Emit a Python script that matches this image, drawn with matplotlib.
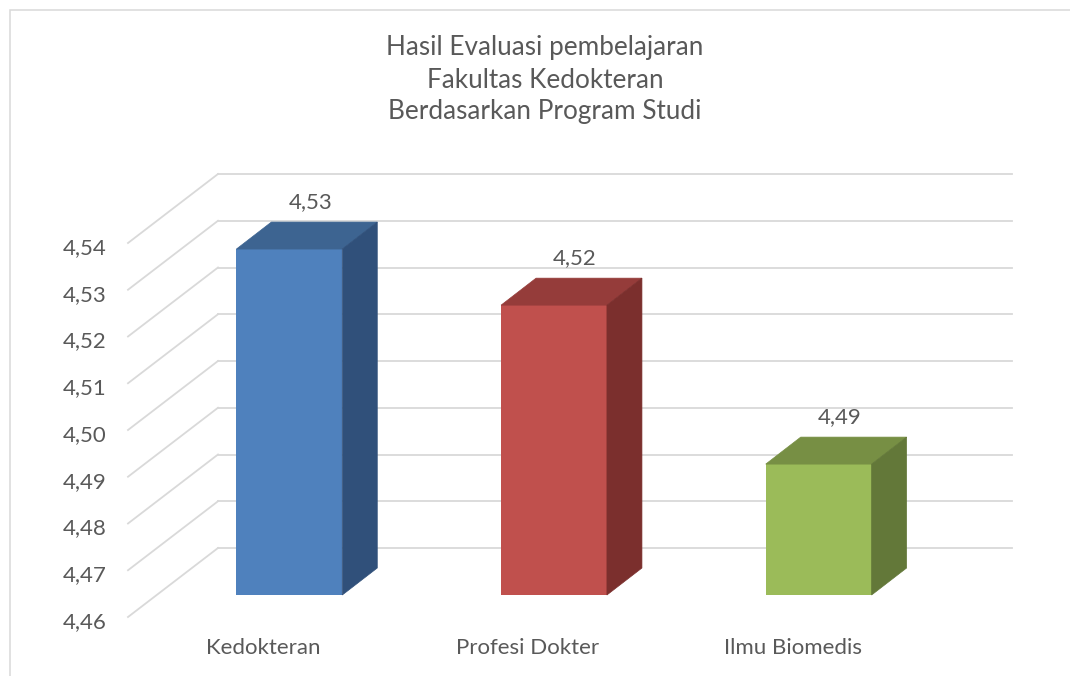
import matplotlib
matplotlib.use("Agg")
import matplotlib.pyplot as plt
from matplotlib.patches import Polygon, Rectangle
from matplotlib.lines import Line2D

# ---- data ----
title = "Hasil Evaluasi pembelajaran\nFakultas Kedokteran\nBerdasarkan Program Studi"
categories = ["Kedokteran", "Profesi Dokter", "Ilmu Biomedis"]
values = [4.534, 4.522, 4.488]
value_labels = ["4,53", "4,52", "4,49"]
y_ticks = [4.46, 4.47, 4.48, 4.49, 4.50, 4.51, 4.52, 4.53, 4.54]
y_tick_labels = ["4,46", "4,47", "4,48", "4,49", "4,50", "4,51", "4,52", "4,53", "4,54"]

front_colors = ["#4F81BD", "#C0504D", "#9BBB59"]
top_colors = ["#3D6491", "#953C3A", "#778F44"]
side_colors = ["#30507A", "#7B2F2D", "#637839"]

TEXT = "#595959"
GRID = "#D9D9D9"
FONT = "Lato"
LABEL_SIZE = 16

W, H = 1070, 676
fig = plt.figure(figsize=(W / 100, H / 100), dpi=100)
fig.patch.set_facecolor("white")

# bar plane axes (pixel geometry of the reference)
left_px, right_px, bottom_px, top_px = 157, 951, 595, 221
ax = fig.add_axes([left_px / W, (H - bottom_px) / H,
                   (right_px - left_px) / W, (bottom_px - top_px) / H])
ax.set_xlim(-0.5, 2.5)
ax.set_ylim(y_ticks[0], y_ticks[-1])
ax.axis("off")

def px_to_data(dxp, dyp):
    o = ax.transData.transform((0, y_ticks[0]))
    d = ax.transData.inverted().transform((o[0] + dxp, o[1] + dyp))
    return d[0], d[1] - y_ticks[0]

BX, BY = px_to_data(35, 27)      # bar depth
KX, KY = px_to_data(61, 47)      # back wall offset
FX, FY = px_to_data(-29, -22)    # front edge offset

xmin, xmax = ax.get_xlim()
# gridlines: back wall + left wall diagonals
for t in y_ticks:
    ax.add_line(Line2D([xmin + KX, xmax + KX], [t + KY, t + KY], color=GRID,
                       lw=1.3, clip_on=False, zorder=1))
    ax.add_line(Line2D([xmin + FX, xmin + KX], [t + FY, t + KY], color=GRID,
                       lw=1.3, clip_on=False, zorder=1))

# bars
width = 0.4
x = list(range(len(categories)))
base = y_ticks[0]
ax.bar(x, [v - base for v in values], bottom=base, width=width,
       color=front_colors, zorder=3, clip_on=False)
for i, v in enumerate(values):
    xl, xr = i - width / 2, i + width / 2
    top = Polygon([(xl, v), (xr, v), (xr + BX, v + BY), (xl + BX, v + BY)],
                  closed=True, facecolor=top_colors[i], edgecolor=top_colors[i],
                  lw=0.5, zorder=3, clip_on=False)
    side = Polygon([(xr, base), (xr, v), (xr + BX, v + BY), (xr + BX, base + BY)],
                   closed=True, facecolor=side_colors[i], edgecolor=side_colors[i],
                   lw=0.5, zorder=3, clip_on=False)
    ax.add_patch(top)
    ax.add_patch(side)
    ax.annotate(value_labels[i], (i, v), xytext=(21, 27 + 20),
                textcoords="offset pixels", ha="center", va="center",
                fontsize=LABEL_SIZE, color=TEXT, family=FONT,
                annotation_clip=False)
    ax.annotate(categories[i], (i + FX, base + FY), xytext=(3, -31),
                textcoords="offset pixels", ha="center", va="center",
                fontsize=LABEL_SIZE, color=TEXT, family=FONT,
                annotation_clip=False)

# tick labels at front edge
for t, lab in zip(y_ticks, y_tick_labels):
    ax.annotate(lab, (xmin + FX, t + FY), xytext=(-21, -5),
                textcoords="offset pixels", ha="right", va="center",
                fontsize=LABEL_SIZE, color=TEXT, family=FONT,
                annotation_clip=False)

# title
fig.text(545 / W, 1 - 80 / H, title, ha="center", va="center",
         fontsize=18.8, color=TEXT, family=FONT, linespacing=1.35)

# chart border (partly cut off in the reference)
fig.add_artist(Rectangle((9.5 / W, -0.05), 1.2, (H - 10.5) / H + 0.05,
                         transform=fig.transFigure, fill=False,
                         edgecolor=GRID, lw=1.1))

fig.savefig("out.png", dpi=100)
